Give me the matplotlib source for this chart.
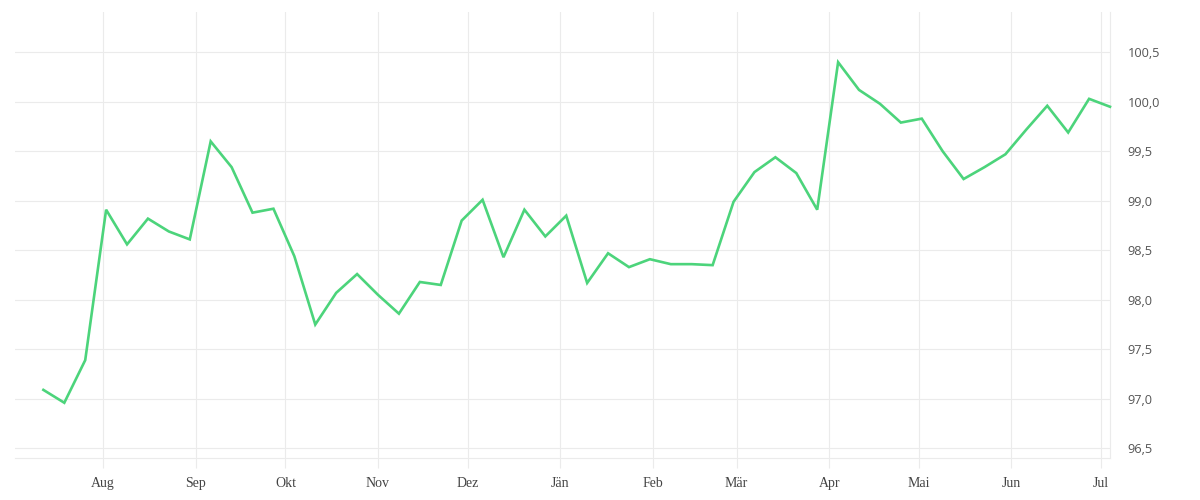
import matplotlib
matplotlib.use("Agg")
import matplotlib.pyplot as plt
import matplotlib.dates as mdates
from matplotlib.ticker import FuncFormatter, FixedLocator
import pandas as pd
import numpy as np

# ---- data ----
start_date = "2022-07-12"
values = [97.09, 96.96, 97.39, 98.91, 98.56, 98.82, 98.69, 98.61, 99.60, 99.34,
          98.88, 98.92, 98.44, 97.75, 98.07, 98.26, 98.05, 97.86, 98.18, 98.15,
          98.80, 99.01, 98.43, 98.91, 98.64, 98.85, 98.17, 98.47, 98.33, 98.41,
          98.36, 98.36, 98.35, 98.99, 99.29, 99.44, 99.28, 98.91, 100.40, 100.12,
          99.98, 99.79, 99.83, 99.50, 99.22, 99.34, 99.47, 99.72, 99.96, 99.69,
          100.03, 99.95]
month_labels = {8: "Aug", 9: "Sep", 10: "Okt", 11: "Nov", 12: "Dez", 1: "Jän",
                2: "Feb", 3: "Mär", 4: "Apr", 5: "Mai", 6: "Jun", 7: "Jul"}
y_ticks = [96.5, 97.0, 97.5, 98.0, 98.5, 99.0, 99.5, 100.0, 100.5]

dates = pd.date_range(start_date, periods=len(values), freq="7D")

# ---- style ----
line_color = "#4CD47B"
grid_color = "#EBEBEB"
text_color = "#555555"

fig = plt.figure(figsize=(12, 5), dpi=100)
ax = fig.add_axes([15 / 1200, 1 - 458.3 / 500, (1110 - 15) / 1200, (458.3 - 12) / 500])

ax.plot(dates, values, color=line_color, linewidth=1.9, solid_joinstyle="miter",
        clip_on=False, zorder=3)

# x axis
xnum = mdates.date2num(dates)
ax.set_xlim(xnum[0] - 9.5, xnum[-1])
ax.xaxis.set_major_locator(mdates.MonthLocator(bymonthday=1))
ax.xaxis.set_major_formatter(FuncFormatter(
    lambda x, pos: month_labels[mdates.num2date(x).month]))
ax.tick_params(axis="x", direction="out", length=7.2, width=0.8, color=grid_color,
               pad=6.5, labelsize=10, labelcolor="#444444")
for lbl in ax.get_xticklabels():
    lbl.set_fontfamily("Liberation Serif")

# y axis
ax.set_ylim(96.399, 100.907)
ax.yaxis.tick_right()
ax.yaxis.set_major_locator(FixedLocator(y_ticks))
ax.yaxis.set_major_formatter(FuncFormatter(lambda v, pos: f"{v:.1f}".replace(".", ",")))
ax.tick_params(axis="y", length=0, pad=12.5, labelsize=9.2, labelcolor=text_color)
for lbl in ax.get_yticklabels():
    lbl.set_fontfamily("Open Sans")
    lbl.set_horizontalalignment("left")

ax.grid(True, color=grid_color, linewidth=0.8)
ax.set_axisbelow(True)

for s in ["top", "left"]:
    ax.spines[s].set_visible(False)
for s in ["bottom", "right"]:
    ax.spines[s].set_color(grid_color)
    ax.spines[s].set_linewidth(0.8)

fig.savefig("out.png", dpi=100, facecolor="white")
